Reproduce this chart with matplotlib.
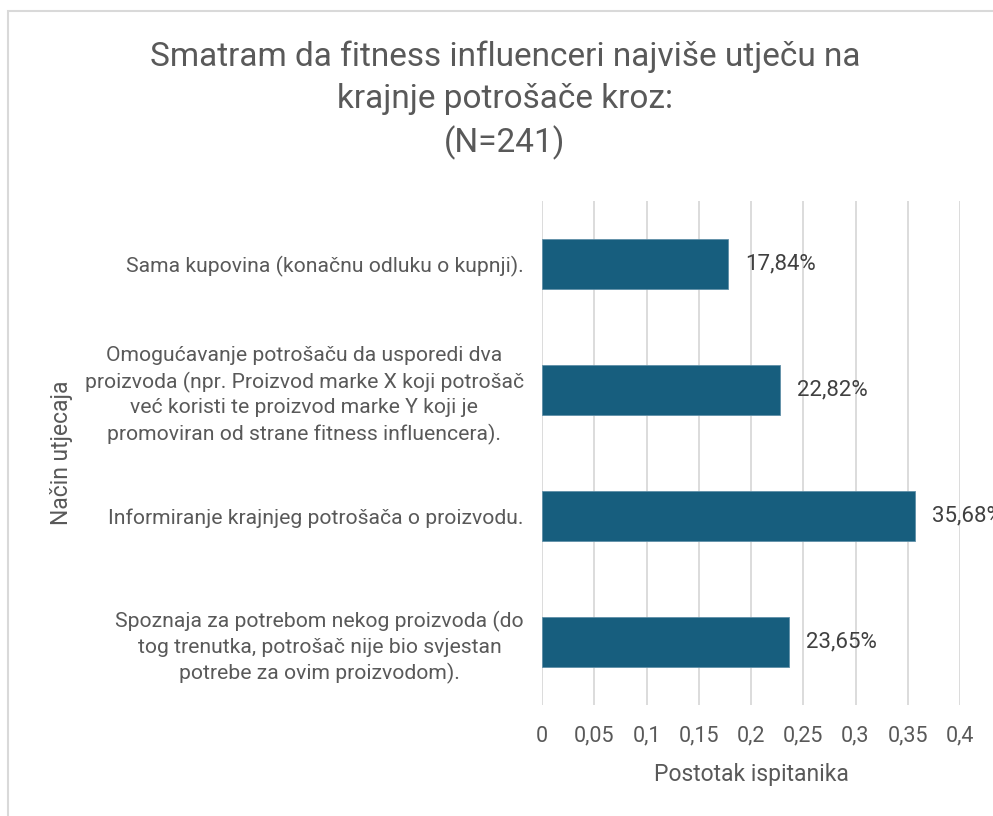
import matplotlib.pyplot as plt
from matplotlib.patches import Rectangle
from matplotlib.ticker import FuncFormatter

plt.rcParams['font.family'] = ['Roboto', 'DejaVu Sans']

categories = [
    "Sama kupovina (konačnu odluku o kupnji).",
    "Omogućavanje potrošaču da usporedi dva\nproizvoda (npr. Proizvod marke X koji potrošač\nveć koristi te proizvod marke Y koji je\npromoviran od strane fitness influencera).",
    "Informiranje krajnjeg potrošača o proizvodu.",
    "Spoznaja za potrebom nekog proizvoda (do\ntog trenutka, potrošač nije bio svjestan\npotrebe za ovim proizvodom).",
]
values = [0.1784, 0.2282, 0.3568, 0.2365]
xticks = [0, 0.05, 0.1, 0.15, 0.2, 0.25, 0.3, 0.35, 0.4]

grey = '#595959'
barColor = '#175e7e'

fig = plt.figure(figsize=(9.93, 8.16), dpi=100)
# chart frame, runs off the right and bottom edge like the screenshot
fig.patches.append(Rectangle((8, -20), 1100, 816 - 11 + 20, transform=None,
                             fill=False, edgecolor='#d9d9d9', linewidth=1.5))

ax = fig.add_axes([542/993, 1 - 705/816, (960 - 542)/993, (705 - 201)/816])
pos = list(range(len(categories)))
ax.barh(pos, values, height=0.40, color=barColor, edgecolor='#5f8fa8', linewidth=0.6, zorder=3)
ax.set_ylim(len(categories) - 0.5, -0.5)
ax.set_xlim(0, 0.4)
ax.set_xticks(xticks)
ax.xaxis.set_major_formatter(FuncFormatter(lambda v, p: ('%g' % v).replace('.', ',')))
ax.set_yticks(pos)
ax.set_yticklabels(categories, ha='right', multialignment='center', linespacing=1.38)
ax.tick_params(axis='both', length=0, colors=grey, labelsize=15.2)
ax.tick_params(axis='x', pad=15, labelsize=15.5)
ax.tick_params(axis='y', pad=13)
ax.grid(axis='x', color='#d9d9d9', linewidth=1.3, zorder=0)
for s in ax.spines.values():
    s.set_visible(False)

for p, v in zip(pos, values):
    ax.text(v + 0.016, p, ('%.2f%%' % (v*100)).replace('.', ','), va='center', ha='left',
            fontsize=16, color='#404040', clip_on=False)

ax.set_xlabel("Postotak ispitanika", fontsize=16.5, color=grey, labelpad=12)
ax.set_ylabel("Način utjecaja", fontsize=16.5, color=grey)
ax.yaxis.set_label_coords(-469/418, 0.5)

fig.text(505/993, 1 - 100/816,
         "Smatram da fitness influenceri najviše utječu na\nkrajnje potrošače kroz:\n(N=241)",
         ha='center', va='center', fontsize=24, color=grey, linespacing=1.4)

fig.savefig('out.png', dpi=100)
